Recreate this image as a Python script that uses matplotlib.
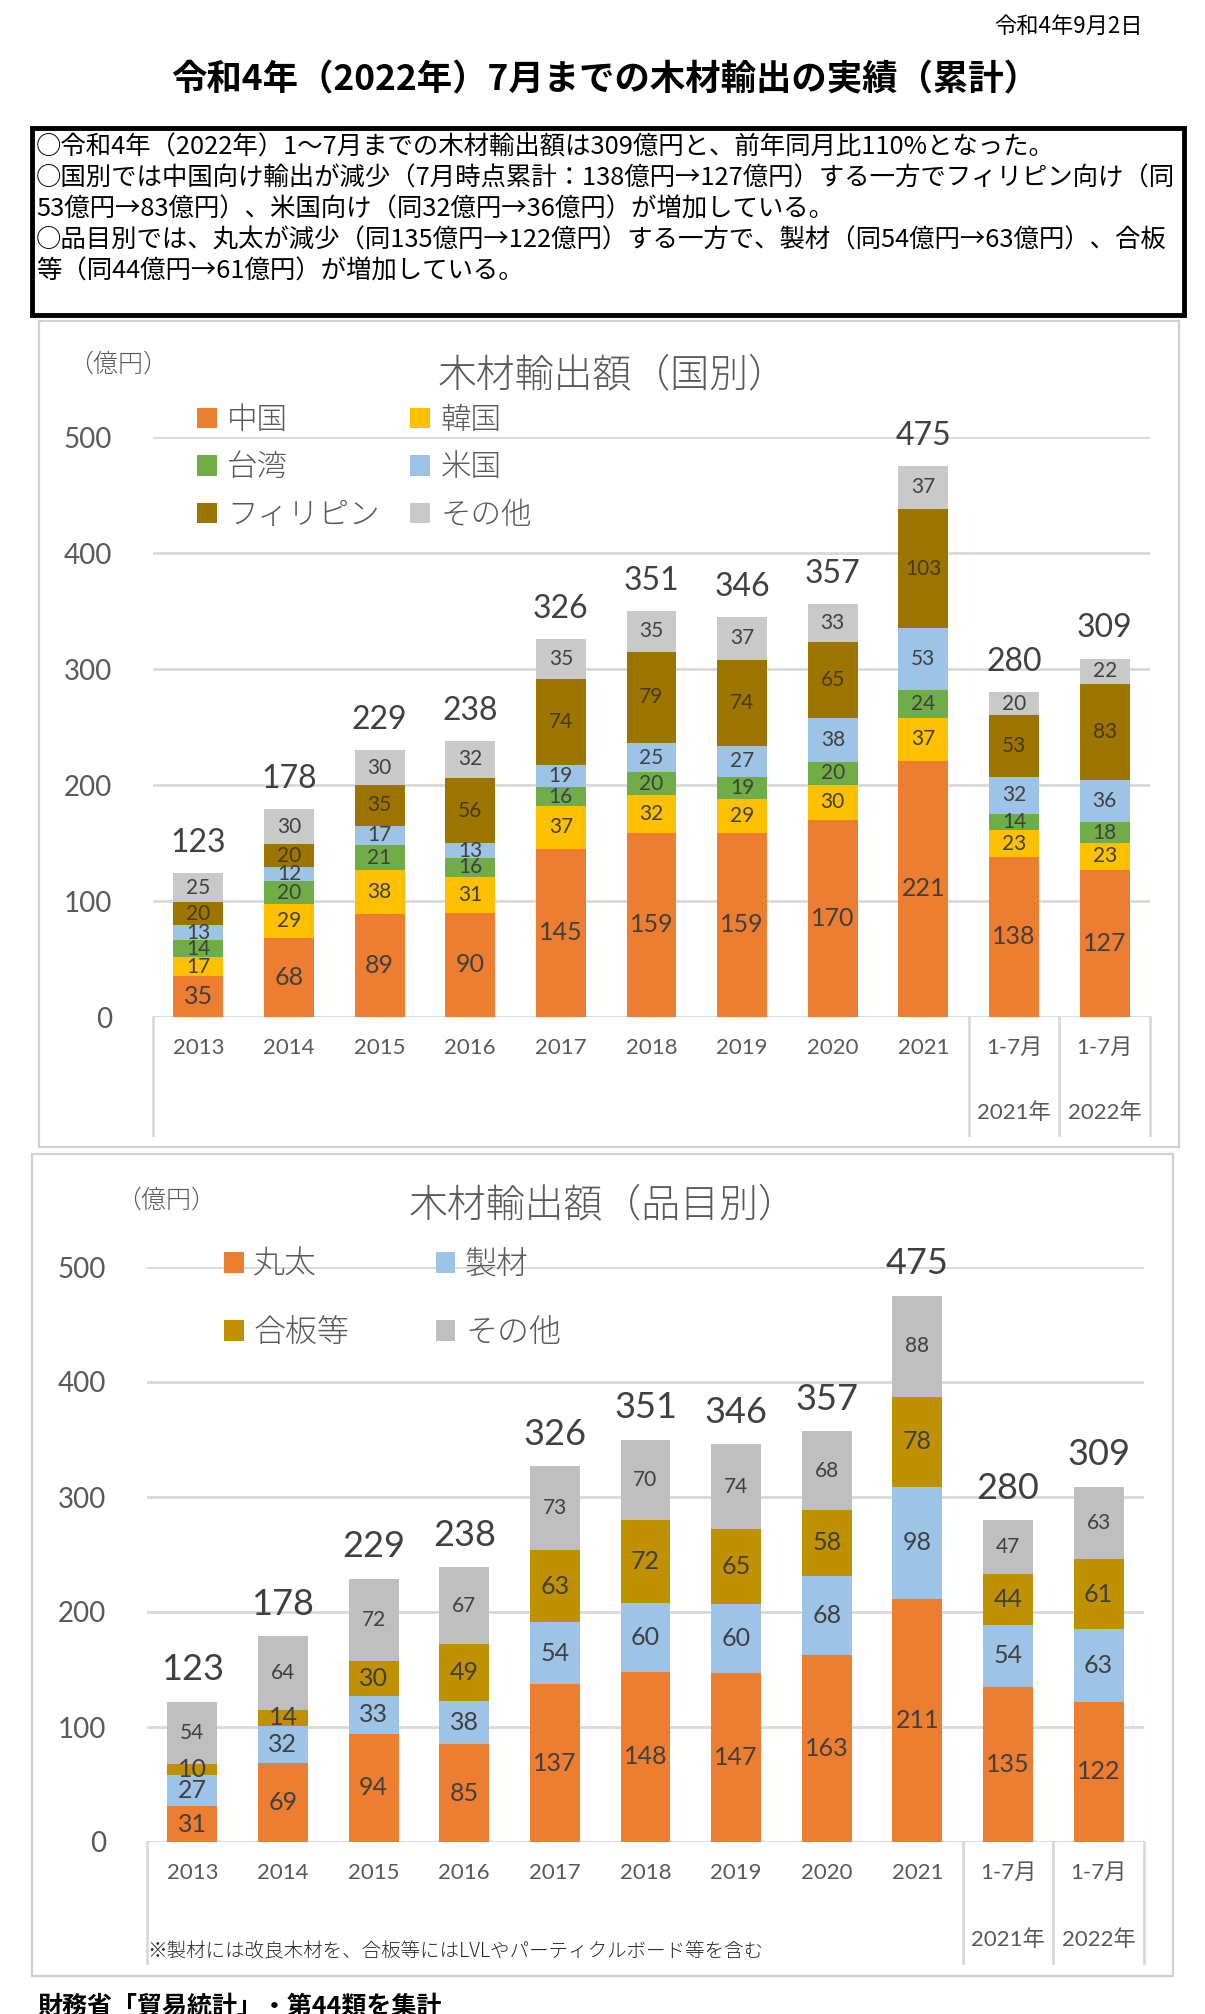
import numpy as np
import matplotlib.pyplot as plt
from matplotlib.patches import Rectangle
from matplotlib.transforms import blended_transform_factory

plt.rcParams['font.family'] = ['Lato', 'Noto Sans CJK JP', 'DejaVu Sans']

W, H = 1205, 2014
JP = ['Noto Sans CJK JP', 'DejaVu Sans']
GRAY_TXT = '#595959'
LBL = '#404040'
LINE = '#D9D9D9'

categories = ["2013", "2014", "2015", "2016", "2017", "2018", "2019",
              "2020", "2021", "1-7月", "1-7月"]
period_labels = ["2021年", "2022年"]

# 国別 (億円)
country_names = ["中国", "韓国", "台湾", "米国", "フィリピン", "その他"]
china = [35, 68, 89, 90, 145, 159, 159, 170, 221, 138, 127]
korea = [17, 29, 38, 31, 37, 32, 29, 30, 37, 23, 23]
taiwan = [14, 20, 21, 16, 16, 20, 19, 20, 24, 14, 18]
usa = [13, 12, 17, 13, 19, 25, 27, 38, 53, 32, 36]
philippines = [20, 20, 35, 56, 74, 79, 74, 65, 103, 53, 83]
country_other = [25, 30, 30, 32, 35, 35, 37, 33, 37, 20, 22]
country_totals = [123, 178, 229, 238, 326, 351, 346, 357, 475, 280, 309]

# 品目別 (億円)
item_names = ["丸太", "製材", "合板等", "その他"]
logs = [31, 69, 94, 85, 137, 148, 147, 163, 211, 135, 122]
lumber = [27, 32, 33, 38, 54, 60, 60, 68, 98, 54, 63]
plywood = [10, 14, 30, 49, 63, 72, 65, 58, 78, 44, 61]
item_other = [54, 64, 72, 67, 73, 70, 74, 68, 88, 47, 63]
item_totals = [123, 178, 229, 238, 326, 351, 346, 357, 475, 280, 309]


def fx(x):
    return x / W


def fy(y):
    return 1 - y / H


def rect(x0, y0, x1, y1):
    return [fx(x0), fy(y1), (x1 - x0) / W, (y1 - y0) / H]


def stacked_chart(fig, box, series, names, colors, sizes, lcolors,
                  totals, total_size, sep_depth, row2_off, order, leg_anchor,
                  leg_kw, title, title_xy, title_size, unit_xy):
    ax = fig.add_axes(rect(*box))
    x = np.arange(len(categories))
    bottom = np.zeros(len(categories))
    conts = []
    for vals, name, col, fs, lc in zip(series, names, colors, sizes, lcolors):
        c = ax.bar(x, vals, 0.55, bottom=bottom, color=col, label=name, zorder=2)
        ax.bar_label(c, label_type='center', fontsize=fs, color=lc)
        bottom += np.array(vals)
        conts.append(c)
    ax.bar_label(conts[-1], labels=[str(t) for t in totals], padding=11,
                 fontsize=total_size, color=LBL)

    ax.set_xlim(-0.5, len(categories) - 0.5)
    ax.set_ylim(0, 500)
    ax.set_yticks(range(0, 501, 100))
    ax.set_xticks(x, categories)
    for lbl in ax.get_xticklabels():
        lbl.set_va('center')
    ax.tick_params(axis='y', length=0, pad=29.5, labelsize=20, labelcolor=GRAY_TXT)
    ax.tick_params(axis='x', length=0, pad=22.5, labelsize=16, labelcolor=GRAY_TXT)
    for sp in ax.spines.values():
        sp.set_visible(False)
    ax.grid(axis='y', color=LINE, lw=2)
    ax.set_axisbelow(True)

    tr = blended_transform_factory(ax.transData, ax.transAxes)
    for xb in [-0.5, 8.5, 9.5, 10.5]:
        ax.plot([xb, xb], [0, -sep_depth], color=LINE, lw=2, transform=tr,
                clip_on=False)
    for i, p in enumerate(period_labels):
        ax.text(9 + i, -row2_off, p, transform=tr, ha='center', va='center',
                fontsize=16, color=GRAY_TXT)

    hs = [conts[i] for i in order]
    ls = [names[i] for i in order]
    fig.legend(hs, ls, ncol=2, loc='upper left', bbox_to_anchor=leg_anchor,
               frameon=False, labelcolor=GRAY_TXT, borderpad=0,
               borderaxespad=0, **leg_kw)

    fig.text(fx(title_xy[0]), fy(title_xy[1]), title, ha='center', va='center',
             fontsize=title_size, color=GRAY_TXT, family=JP, weight='light')
    fig.text(fx(unit_xy[0]), fy(unit_xy[1]), "（億円）", ha='center', va='center',
             fontsize=18, color=GRAY_TXT, family=JP, weight='light')
    return ax


fig = plt.figure(figsize=(W / 100, H / 100), dpi=100)

# header
fig.text(fx(1143), fy(26), "令和4年9月2日", ha='right', va='center',
         fontsize=16, family=JP)
fig.text(fx(605), fy(80), "令和4年（2022年）7月までの木材輸出の実績（累計）",
         ha='center', va='center', fontsize=25.5, weight='bold', family=JP)
fig.patches.append(Rectangle((fx(32), fy(315)), (1184 - 32) / W, (315 - 128) / H,
                             transform=fig.transFigure, fill=False,
                             edgecolor='black', lw=3.5))
body = [
    "○令和4年（2022年）1～7月までの木材輸出額は309億円と、前年同月比110%となった。",
    "○国別では中国向け輸出が減少（7月時点累計：138億円→127億円）する一方でフィリピン向け（同",
    "53億円→83億円）、米国向け（同32億円→36億円）が増加している。",
    "○品目別では、丸太が減少（同135億円→122億円）する一方で、製材（同54億円→63億円）、合板",
    "等（同44億円→61億円）が増加している。",
]
for i, line in enumerate(body):
    fig.text(fx(36), fy(148 + i * 30.8), line, va='center', fontsize=18.3, family=JP)

# panel borders
for x0, y0, x1, y1 in [(39, 321, 1179, 1147), (32, 1154, 1173, 1976)]:
    fig.patches.append(Rectangle((fx(x0), fy(y1)), (x1 - x0) / W, (y1 - y0) / H,
                                 transform=fig.transFigure, fill=False,
                                 edgecolor='#D0D0D0', lw=1.6))

# chart 1: by country
stacked_chart(
    fig, (153, 437, 1150, 1017),
    [china, korea, taiwan, usa, philippines, country_other], country_names,
    ['#ED7D31', '#FFC000', '#70AD47', '#9DC3E6', '#9C7400', '#C9C9C9'],
    [18, 15, 15, 15, 15, 15],
    [LBL, LBL, LBL, LBL, '#4A3B10', LBL],
    country_totals, 23, 118 / 580, 96 / 580, [0, 2, 4, 1, 3, 5],
    (fx(197), fy(404)),
    dict(prop=dict(family=JP, size=22, weight='light'), handlelength=0.64,
         handleheight=0.64, handletextpad=0.35, columnspacing=1.0,
         labelspacing=0.5),
    "木材輸出額（国別）", (613, 375), 28, (118, 364))

# chart 2: by item
stacked_chart(
    fig, (147, 1267, 1144, 1842),
    [logs, lumber, plywood, item_other], item_names,
    ['#ED7D31', '#9DC3E6', '#BF9000', '#BFBFBF'],
    [18, 18, 18, 15],
    [LBL, LBL, LBL, LBL],
    item_totals, 26, 121 / 575, 98 / 575, [0, 2, 1, 3],
    (fx(224), fy(1247)),
    dict(prop=dict(family=JP, size=23, weight='light'), handlelength=0.62,
         handleheight=0.62, handletextpad=0.3, columnspacing=2.7,
         labelspacing=1.05),
    "木材輸出額（品目別）", (603, 1206), 28, (166, 1200))

fig.text(fx(147), fy(1952), "※製材には改良木材を、合板等にはLVLやパーティクルボード等を含む",
         va='center', fontsize=14, color='#262626', family=JP, weight='light')

fig.text(fx(38), fy(1995), "財務省「貿易統計」・第44類を集計", va='top',
         fontsize=18, weight='bold', family=JP)

fig.savefig("out.png", dpi=100)
